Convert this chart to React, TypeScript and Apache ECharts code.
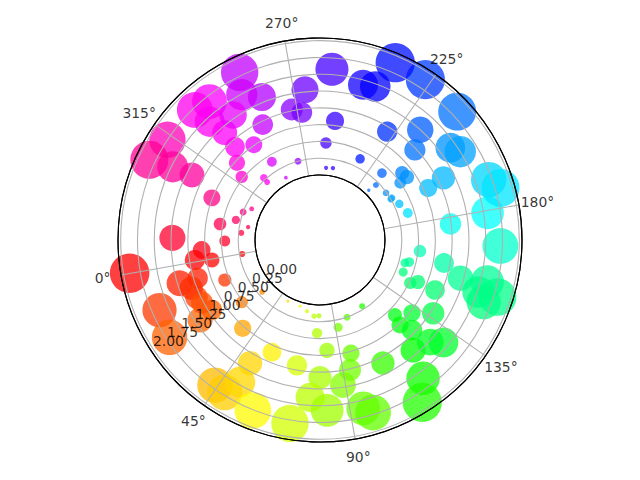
import React, { useEffect, useRef } from "react";
import * as echarts from "echarts";

// theta in degrees, r values
const thetaDeg: number[] = [
  285.6, 282.1, 288.3, 298.6, 303.9, 303.0, 301.6, 302.4, 294.8, 307.1,
  291.6, 275.6, 316.7, 324.8, 323.6, 323.1, 286.4, 302.1, 302.4, 288.7,
  311.1, 328.7, 340.9, 350.6, 336.6, 330.0, 325.5, 344.9, 339.8, 0.2,
  349.2, 354.8, 359.1, 0.5, 359.9, 7.1, 7.3, 14.9, 12.8, 28.5,
  13.6, 22.9, 23.7, 38.8, 31.9, 52.3, 63.1, 69.6, 75.5, 79.2,
  44.1, 48.0, 50.6, 50.4, 58.5, 56.8, 69.6, 70.7, 80.0, 76.4,
  82.4, 89.0, 93.0, 83.6, 95.3, 78.2, 91.7, 99.3, 94.4, 97.1,
  107.1, 112.5, 125.0, 131.6, 123.3, 125.6, 120.2, 127.2, 130.3, 116.7,
  112.2, 137.1, 146.5, 144.5, 146.8, 154.9, 156.1, 148.9, 163.7, 159.5,
  154.8, 155.9, 149.2, 152.2, 168.1, 177.0, 179.2, 189.7, 186.1, 194.5,
  187.1, 200.3, 196.7, 195.7, 209.2, 205.9, 205.5, 217.2, 214.5, 215.6,
  205.5, 200.0, 226.7, 213.1, 217.7, 213.5, 205.3, 202.2, 228.2, 233.7,
  237.0, 244.5, 240.2, 256.0, 265.7, 272.2, 268.1, 252.8, 256.5, 255.2,
  249.8, 22.9, 294.8, 151.8, 10.5, 18.0,
];
const radius: number[] = [
  1.80, 1.33, 1.49, 1.67, 1.72, 1.44, 1.17, 0.91, 0.76, 0.72,
  0.40, 0.25, 1.75, 1.84, 1.48, 1.17, 0.95, 0.28, 0.20, 0.09,
  0.53, 0.76, 0.54, 0.45, 0.32, 0.25, 0.15, 0.21, 0.12, 0.21,
  1.23, 0.80, 0.92, 0.67, 1.91, 1.22, 0.94, 1.06, 0.57, 0.52,
  1.64, 1.70, 1.18, 0.78, 0.19, 0.06, 0.06, 0.11, 0.17, 0.16,
  1.70, 1.71, 1.46, 1.14, 1.76, 0.85, 0.93, 1.80, 1.08, 1.38,
  1.57, 1.22, 1.02, 0.68, 0.78, 0.42, 0.36, 0.25, 1.62, 1.72,
  1.09, 0.20, 0.61, 0.78, 0.77, 0.95, 1.18, 1.27, 1.42, 1.60,
  1.89, 1.04, 0.90, 0.52, 0.62, 0.34, 0.40, 0.36, 0.53, 0.91,
  1.20, 1.60, 1.64, 1.81, 1.72, 0.99, 1.56, 1.70, 1.83, 0.33,
  0.40, 0.27, 1.09, 0.82, 0.61, 0.63, 0.50, 0.39, 0.20, 0.07,
  0.24, 0.25, 1.89, 1.83, 1.25, 0.98, 1.41, 1.50, 0.93, 0.38,
  1.90, 1.43, 1.46, 1.58, 1.28, 1.02, 0.95, 0.82, 0.48, 0.11,
  0.12, 0.95, 1.30, 1.51, 1.08, 1.02,
];

const angleTicks: number[] = [0, 45, 90, 135, 180, 225, 270, 315];
const radiusTicks: number[] = [0, 0.25, 0.5, 0.75, 1.0, 1.25, 1.5, 1.75, 2.0];
const rMax = 2.04;
const rLabelAngle = 22.5;
const angleLabelR = 2.32;

export default function App() {
  const ref = useRef<HTMLDivElement>(null);
  useEffect(() => {
    if (!ref.current) return;
    const chart = echarts.init(ref.current, null, { renderer: "svg" });
    const points = thetaDeg.map((t, i) => [radius[i], t]);
    const font = "DejaVu Sans";
    chart.setOption({
      animation: false,
      backgroundColor: "#ffffff",
      polar: { center: ["50%", "50%"], radius: [65, 202] },
      angleAxis: {
        type: "value",
        min: 0,
        max: 360,
        interval: 45,
        startAngle: 190,
        clockwise: false,
        z: 10,
        axisLine: { show: true, lineStyle: { color: "#000000", width: 1.1 } },
        axisTick: { show: false },
        axisLabel: { show: false },
        splitLine: { show: true, lineStyle: { color: "#b0b0b0", width: 1.1 } },
      },
      radiusAxis: {
        type: "value",
        min: 0,
        max: rMax,
        interval: 0.25,
        z: 10,
        axisLine: { show: false },
        axisTick: { show: false },
        axisLabel: { show: false },
        splitLine: {
          show: true,
          lineStyle: {
            color: ["#000000", "#b0b0b0", "#b0b0b0", "#b0b0b0", "#b0b0b0", "#b0b0b0", "#b0b0b0", "#b0b0b0", "#b0b0b0", "#000000"],
            width: 1.1,
          },
        },
      },
      visualMap: {
        show: false,
        type: "continuous",
        seriesIndex: 0,
        dimension: 1,
        min: 0,
        max: 360,
        inRange: {
          color: ["#ff0000", "#ffff00", "#00ff00", "#00ffff", "#0000ff", "#ff00ff", "#ff0000"],
        },
      },
      series: [
        {
          type: "scatter",
          coordinateSystem: "polar",
          data: points,
          symbol: "circle",
          symbolSize: (v: number[]) => 19.64 * v[0] + 2,
          itemStyle: { opacity: 0.75 },
          z: 2,
        },
        {
          type: "scatter",
          coordinateSystem: "polar",
          data: radiusTicks.map((r) => [r, rLabelAngle]),
          symbolSize: 0,
          z: 20,
          silent: true,
          label: {
            show: true,
            position: [1, 1],
            align: "left",
            verticalAlign: "bottom",
            color: "#000000",
            fontFamily: font,
            fontSize: 13.9,
            formatter: (p: any) => p.value[0].toFixed(2),
          },
        },
        {
          type: "scatter",
          coordinateSystem: "polar",
          clip: false,
          data: angleTicks.map((a) => [angleLabelR, a]),
          symbolSize: 0,
          z: 20,
          silent: true,
          label: {
            show: true,
            position: [0, 0],
            align: "center",
            verticalAlign: "middle",
            color: "#000000",
            fontFamily: font,
            fontSize: 13.9,
            formatter: (p: any) => p.value[1] + "°",
          },
        },
      ],
    });
    return () => chart.dispose();
  }, []);
  return (
    <div
      ref={ref}
      style={{ position: "fixed", left: 0, top: 0, width: 640, height: 480 }}
    />
  );
}
